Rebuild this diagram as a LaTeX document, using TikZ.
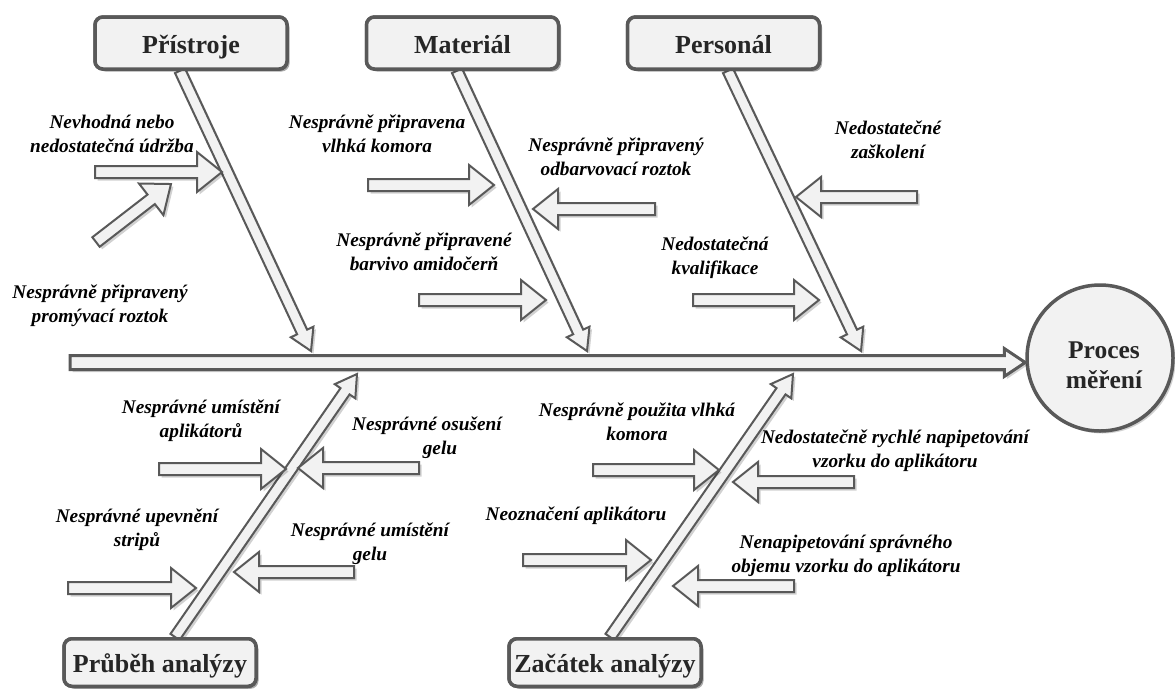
\documentclass[tikz,border=0pt]{standalone}
\usepackage{fontspec}
\setmainfont{Liberation Serif}
\usetikzlibrary{calc,shadows}

\definecolor{edge}{HTML}{595959}
\definecolor{paper}{HTML}{F2F2F2}
\definecolor{ink}{HTML}{262626}

% Hollow block arrow from #2 to #3 (named coordinates).
% #1 style, #4 shaft half-width, #5 head half-width, #6 head length (pt)
\newcommand\hollowarrow[6]{%
  \draw[#1] let \p1=($(#3)-(#2)$), \n1={veclen(\x1,\y1)}, \n2={atan2(\y1,\x1)} in
    ([shift={(#2)},rotate=\n2]0pt,#4pt)
    -- ([shift={(#2)},rotate=\n2]{\n1-#6pt},#4pt)
    -- ([shift={(#2)},rotate=\n2]{\n1-#6pt},#5pt)
    -- ([shift={(#2)},rotate=\n2]{\n1},0pt)
    -- ([shift={(#2)},rotate=\n2]{\n1-#6pt},-#5pt)
    -- ([shift={(#2)},rotate=\n2]{\n1-#6pt},-#4pt)
    -- ([shift={(#2)},rotate=\n2]0pt,-#4pt)
    -- cycle;%
}

\begin{document}
\begin{tikzpicture}[x=1pt,y=-1pt,
  softshadow/.style={drop shadow={shadow xshift=2.5pt,shadow yshift=-2.5pt,fill=black,opacity=0.18}},
  catbox/.style={draw=edge,line width=3.5pt,fill=paper,rounded corners=8pt,
    minimum width=192pt,inner sep=0pt,text=ink,text height=24pt,text depth=4pt,
    font=\fontsize{26}{30}\selectfont\bfseries,softshadow},
  effectcirc/.style={circle,draw=edge,line width=3.5pt,fill=paper,minimum size=146pt,
    inner sep=0pt,softshadow},
  effecttext/.style={align=center,inner sep=0pt,text=ink,
    font=\fontsize{25.5}{30}\selectfont\bfseries},
  effectlbl/.style={align=center,inner sep=0pt,
    font=\fontsize{19.3}{24}\selectfont\bfseries\itshape},
  spinearrow/.style={draw=edge,line width=3pt,fill=paper,softshadow},
  bonearrow/.style={draw=edge,line width=2pt,fill=paper,softshadow},
  causearrow/.style={draw=edge,line width=2pt,fill=paper,softshadow}]

\fill[white] (0,0) rectangle (1175,689);
\useasboundingbox (0,0) rectangle (1175,689);

% effect and category boxes (placed first so arrows can refer to them)
\node[effectcirc] (proces) at (1100,358) {};
\node[effecttext] (procestext) at ($(proces)+(4,7)$) {Proces\\měření};
\path
  (191,43)    node[catbox,minimum height=52pt] (pristroje) {}
  (462.5,43)  node[catbox,minimum height=52pt] (material)  {}
  (723.5,43)  node[catbox,minimum height=52pt] (personal)  {}
  (160,662.5) node[catbox,minimum height=47.5pt] (prubeh)  {}
  (605,662.5) node[catbox,minimum height=47.5pt] (zacatek) {};

% main spine
\coordinate (spinestart) at (70,362.5);
\coordinate (spineend) at (spinestart -| proces.west);
\hollowarrow{spinearrow}{spinestart}{spineend}{7}{14}{21}

% category bones
\coordinate (tipP) at (311,351);
\coordinate (tipM) at (587,351);
\coordinate (tipR) at (861,351);
\coordinate (tipB) at (357,374);
\coordinate (tipZ) at (793,374);
\hollowarrow{bonearrow}{$(pristroje.south)+(-11,0)$}{tipP}{5.5}{12.5}{21}
\hollowarrow{bonearrow}{$(material.south)+(-5.5,0)$}{tipM}{5.5}{12.5}{21}
\hollowarrow{bonearrow}{$(personal.south)+(4.5,0)$}{tipR}{5.5}{12.5}{21}
\hollowarrow{bonearrow}{$(prubeh.north)+(15,0)$}{tipB}{5.5}{12.5}{21}
\hollowarrow{bonearrow}{$(zacatek.north)+(5,0)$}{tipZ}{5.5}{12.5}{21}

% category boxes redrawn over the bone tails
\node[catbox,minimum height=52pt] at (pristroje) {Přístroje};
\node[catbox,minimum height=52pt] at (material) {Materiál};
\node[catbox,minimum height=52pt] at (personal) {Personál};
\node[catbox,minimum height=47.5pt] at (prubeh) {Průběh analýzy};
\node[catbox,minimum height=47.5pt] at (zacatek) {Začátek analýzy};

% cause arrows: tail and tip coordinates
\coordinate (a1s) at (95,172);   \coordinate (a1e) at (222,172);
\coordinate (a2s) at (96,242);   \coordinate (a2e) at (171,184);
\coordinate (a3s) at (368,185);  \coordinate (a3e) at (494,185);
\coordinate (a4s) at (655,209);  \coordinate (a4e) at (533,209);
\coordinate (a5s) at (419,300);  \coordinate (a5e) at (546,300);
\coordinate (a6s) at (917,197);  \coordinate (a6e) at (796,197);
\coordinate (a7s) at (693,300);  \coordinate (a7e) at (819,300);
\coordinate (a8s) at (159,469);  \coordinate (a8e) at (286,469);
\coordinate (a9s) at (419,468);  \coordinate (a9e) at (298,468);
\coordinate (a10s) at (68,588);  \coordinate (a10e) at (196,588);
\coordinate (a11s) at (354,572); \coordinate (a11e) at (234,572);
\coordinate (a12s) at (593,470); \coordinate (a12e) at (719,470);
\coordinate (a13s) at (854,482); \coordinate (a13e) at (733,482);
\coordinate (a14s) at (523,560); \coordinate (a14e) at (651,560);
\coordinate (a15s) at (794,586); \coordinate (a15e) at (673,586);
\foreach \k in {1,...,15}{\hollowarrow{causearrow}{a\k s}{a\k e}{6}{20}{25}}

% cause labels
\node[effectlbl] (c1) at (112,134) {Nevhodná nebo\\nedostatečná údržba};
\node[effectlbl] (c2) at (100,306) {Nesprávně připravený\\promývací roztok};
\node[effectlbl] (c3) at (377,134) {Nesprávně připravena\\vlhká komora};
\node[effectlbl] (c4) at (616,157) {Nesprávně připravený\\odbarvovací roztok};
\node[effectlbl] (c5) at (424,252) {Nesprávně připravené\\barvivo amidočerň};
\node[effectlbl] (c6) at (888,140) {Nedostatečné\\zaškolení};
\node[effectlbl] (c7) at (715,258) {Nedostatečná\\kvalifikace};
\node[effectlbl] (c8) at (201,421) {Nesprávné umístění\\aplikátorů};
\node[effectlbl] (c9) at (427,438) {Nesprávné osušení\\\hspace*{26pt}gelu};
\node[effectlbl] (c10) at (137,530) {Nesprávné upevnění\\stripů};
\node[effectlbl] (c11) at (370,544) {Nesprávné umístění\\gelu};
\node[effectlbl] (c12) at (637,422) {Nesprávně použita vlhká\\komora};
\node[effectlbl] (c13) at (895,451) {Nedostatečně rychlé napipetování\\vzorku do aplikátoru};
\node[effectlbl] (c14) at (576,516) {Neoznačení aplikátoru};
\node[effectlbl] (c15) at (846,556) {Nenapipetování správného\\objemu vzorku do aplikátoru};
\end{tikzpicture}
\end{document}
